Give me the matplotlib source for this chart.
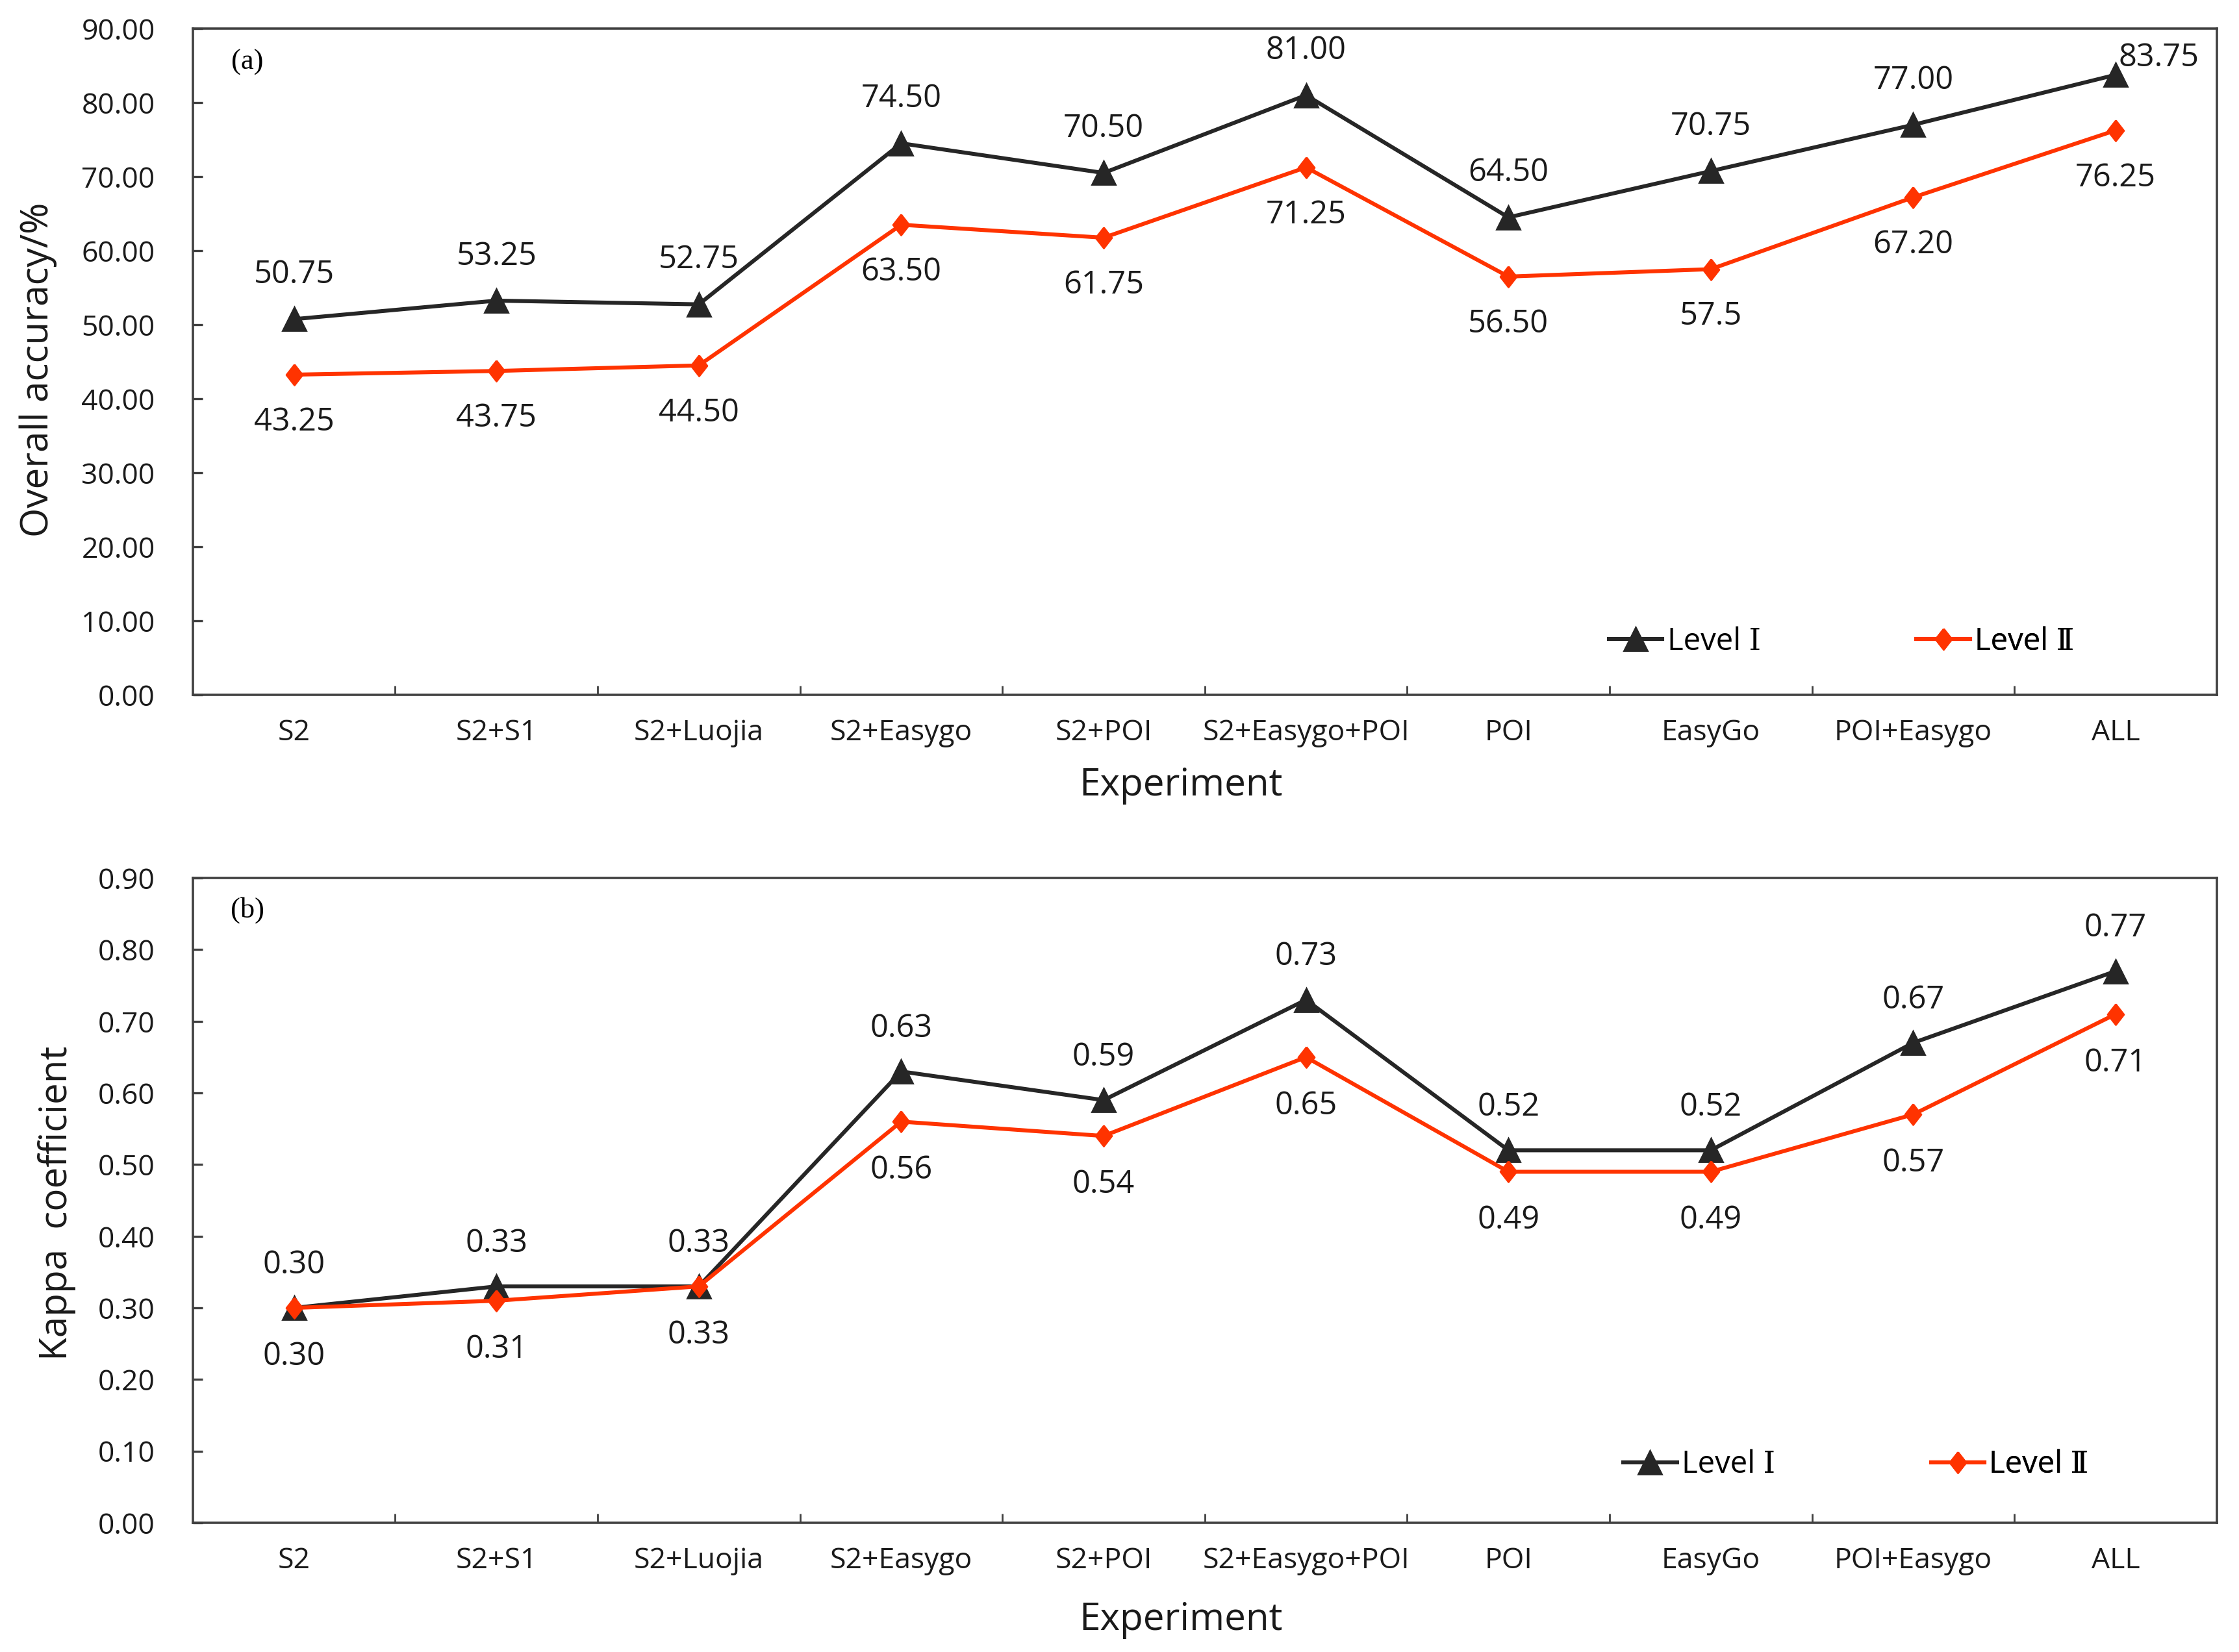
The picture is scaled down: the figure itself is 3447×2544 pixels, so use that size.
import matplotlib
matplotlib.use("Agg")
import matplotlib.pyplot as plt
from matplotlib.ticker import FixedLocator, FormatStrFormatter

# ---------------- data ----------------
experiments = ["S2", "S2+S1", "S2+Luojia", "S2+Easygo", "S2+POI",
               "S2+Easygo+POI", "POI", "EasyGo", "POI+Easygo", "ALL"]

oa_level1 = [50.75, 53.25, 52.75, 74.50, 70.50, 81.00, 64.50, 70.75, 77.00, 83.75]
oa_level2 = [43.25, 43.75, 44.50, 63.50, 61.75, 71.25, 56.50, 57.5, 67.20, 76.25]
oa_level1_text = ["50.75", "53.25", "52.75", "74.50", "70.50", "81.00", "64.50", "70.75", "77.00", "83.75"]
oa_level2_text = ["43.25", "43.75", "44.50", "63.50", "61.75", "71.25", "56.50", "57.5", "67.20", "76.25"]

kappa_level1 = [0.30, 0.33, 0.33, 0.63, 0.59, 0.73, 0.52, 0.52, 0.67, 0.77]
kappa_level2 = [0.30, 0.31, 0.33, 0.56, 0.54, 0.65, 0.49, 0.49, 0.57, 0.71]
kappa_level1_text = ["0.30", "0.33", "0.33", "0.63", "0.59", "0.73", "0.52", "0.52", "0.67", "0.77"]
kappa_level2_text = ["0.30", "0.31", "0.33", "0.56", "0.54", "0.65", "0.49", "0.49", "0.57", "0.71"]

oa_yticks = [0, 10, 20, 30, 40, 50, 60, 70, 80, 90]
kappa_yticks = [0.0, 0.1, 0.2, 0.3, 0.4, 0.5, 0.6, 0.7, 0.8, 0.9]

series_names = ["Level \u2160", "Level \u2161"]

# ---------------- style ----------------
SANS = ["Open Sans", "DejaVu Sans"]
LEG = ["Open Sans", "DejaVu Serif", "Noto Sans CJK SC"]
plt.rcParams["font.family"] = SANS
C1 = "#262626"
C2 = "#FF3300"
SPINE = "#404040"
DIAMOND = [(0, 1), (0.78, 0), (0, -1), (-0.78, 0), (0, 1)]

fig = plt.figure(figsize=(17.24, 12.72), dpi=200)
ax_a = fig.add_axes([0.0861, 0.5794, 0.9037, 0.4033])
ax_b = fig.add_axes([0.0861, 0.0782, 0.9037, 0.3903])


def draw_panel(ax, v1, v2, t1, t2, yticks, fmt, ylabel, tag,
               ylab_xy, xlab_y, leg_x1, leg_x2, leg_y,
               up_off, down_off, special=None):
    x = list(range(len(experiments)))
    l1, = ax.plot(x, v1, color=C1, lw=2.2, marker="^", ms=13,
                  markeredgecolor=C1, markerfacecolor=C1, zorder=3)
    l2, = ax.plot(x, v2, color=C2, lw=2.2, marker=DIAMOND, ms=11.5,
                  markeredgecolor=C2, markerfacecolor=C2, zorder=4)

    for i, (a, b) in enumerate(zip(v1, v2)):
        off = (0, up_off)
        if special and i in special:
            off = special[i]
        ax.annotate(t1[i], (i, a), xytext=off, textcoords="offset points",
                    ha="center", va="center", fontsize=17.5, color="#1a1a1a")
        ax.annotate(t2[i], (i, b), xytext=(0, -down_off), textcoords="offset points",
                    ha="center", va="center", fontsize=17.5, color="#1a1a1a")

    ax.set_xlim(-0.5, len(experiments) - 0.5)
    ax.set_ylim(yticks[0], yticks[-1])
    ax.set_yticks(yticks)
    ax.yaxis.set_major_formatter(FormatStrFormatter(fmt))
    ax.set_xticks(x)
    ax.set_xticklabels(experiments)
    ax.xaxis.set_minor_locator(FixedLocator([i + 0.5 for i in x[:-1]]))
    ax.tick_params(axis="x", which="major", length=0, pad=13, labelsize=16, colors="#1a1a1a")
    ax.tick_params(axis="x", which="minor", direction="in", length=5, width=1.0, color=SPINE)
    ax.tick_params(axis="y", which="major", direction="in", length=5.5, width=1.2,
                   color=SPINE, pad=21, labelsize=16, labelcolor="#1a1a1a")
    for s in ax.spines.values():
        s.set_color(SPINE)
        s.set_linewidth(1.3)

    ax.set_ylabel(ylabel, fontsize=21, color="#1a1a1a")
    ax.yaxis.set_label_coords(*ylab_xy)
    ax.set_xlabel("Experiment", fontsize=21, color="#1a1a1a")
    ax.xaxis.set_label_coords(0.488, xlab_y)

    ax.text(0.027, 0.95, tag, transform=ax.transAxes, ha="center", va="center",
            fontsize=16, family=["Liberation Serif", "DejaVu Serif"])

    for line, name, lx in ((l1, series_names[0], leg_x1), (l2, series_names[1], leg_x2)):
        leg = ax.legend([line], [name], loc="center left",
                        bbox_to_anchor=(lx, leg_y), frameon=False, borderpad=0,
                        borderaxespad=0, handlelength=1.75, handletextpad=0.15,
                        prop={"family": LEG, "size": 17})
        ax.add_artist(leg)


draw_panel(ax_a, oa_level1, oa_level2, oa_level1_text, oa_level2_text,
           oa_yticks, "%.2f", "Overall accuracy/%", "(a)",
           (-0.067, 0.488), -0.108, 0.6996, 0.8516, 0.08,
           24.5, 26.3, special={9: (24, 9.5)})

draw_panel(ax_b, kappa_level1, kappa_level2, kappa_level1_text, kappa_level2_text,
           kappa_yticks, "%.2f", "Kappa  coefficient", "(b)",
           (-0.0577, 0.496), -0.121, 0.7067, 0.8587, 0.09,
           23.8, 27.0)

fig.savefig("out.png", dpi=200, facecolor="white")
